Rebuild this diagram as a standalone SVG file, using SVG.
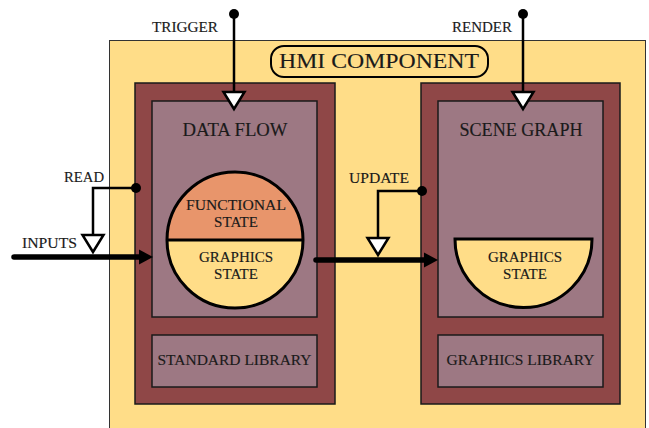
<svg xmlns="http://www.w3.org/2000/svg" width="649" height="428" viewBox="0 0 649 428">
  <defs>
    <style>
      .txt { font-family: "Liberation Serif", "DejaVu Serif", serif; fill: #1a1a1a; stroke: #1a1a1a; stroke-width: 0.15; text-anchor: middle; }
      .lbl { font-size: 15px; }
      .title { font-size: 18px; }
      .yellow { fill: #FFDD88; }
      .frame { fill: #8F4747; stroke: #1a1a1a; stroke-width: 1.5; }
      .panel { fill: #9D7883; stroke: #1a1a1a; stroke-width: 1.5; }
      .wire { fill: none; stroke: #000; stroke-width: 2.5; }
      .thick { fill: none; stroke: #000; stroke-width: 5.5; stroke-linecap: round; }
      .tri { fill: #fff; stroke: #000; stroke-width: 2.5; stroke-linejoin: miter; }
    </style>
  </defs>

  <!-- outer component -->
  <g id="hmi-component">
    <rect x="109.5" y="40.5" width="536" height="400" class="yellow" stroke="#333" stroke-width="1"/>
    <rect x="271" y="46" width="217" height="31" rx="13" ry="13" class="yellow" stroke="#000" stroke-width="2"/>
    <text x="379" y="68" class="txt" font-size="22" textLength="200" lengthAdjust="spacingAndGlyphs">HMI COMPONENT</text>
  </g>

  <!-- data flow block -->
  <g id="data-flow">
    <rect x="135" y="83" width="200" height="321" class="frame"/>
    <rect x="152" y="101" width="165" height="216" class="panel"/>
    <text x="235" y="136" class="txt title" textLength="105" lengthAdjust="spacingAndGlyphs">DATA FLOW</text>
  </g>

  <g id="state-circle">
    <path d="M167,240 A68,68 0 0 1 303,240 Z" fill="#E8956B"/>
    <path d="M167,240 A68,68 0 0 0 303,240 Z" fill="#FFDD88"/>
    <circle cx="235" cy="240" r="68" fill="none" stroke="#000" stroke-width="3"/>
    <line x1="167" y1="240" x2="303" y2="240" stroke="#000" stroke-width="3"/>
    <text x="236" y="210" class="txt lbl" textLength="100" lengthAdjust="spacingAndGlyphs">FUNCTIONAL</text>
    <text x="236" y="227" class="txt lbl">STATE</text>
    <text x="236" y="262" class="txt lbl">GRAPHICS</text>
    <text x="236" y="279" class="txt lbl">STATE</text>
  </g>

  <g id="standard-library">
    <rect x="152" y="335" width="165" height="52" class="panel"/>
    <text x="234.5" y="365" class="txt lbl" textLength="154" lengthAdjust="spacingAndGlyphs">STANDARD LIBRARY</text>
  </g>

  <!-- scene graph block -->
  <g id="scene-graph">
    <rect x="421" y="83" width="199" height="321" class="frame"/>
    <rect x="438" y="101" width="165" height="216" class="panel"/>
    <text x="521" y="136" class="txt title" textLength="123" lengthAdjust="spacingAndGlyphs">SCENE GRAPH</text>
  </g>

  <g id="graphics-state">
    <path d="M455,239 L592,239 A68.5,68.5 0 0 1 455,239 Z" fill="#FFDD88" stroke="#000" stroke-width="3"/>
    <text x="525" y="262" class="txt lbl">GRAPHICS</text>
    <text x="525" y="279" class="txt lbl">STATE</text>
  </g>

  <g id="graphics-library">
    <rect x="438" y="335" width="165" height="52" class="panel"/>
    <text x="520.5" y="365" class="txt lbl" textLength="148" lengthAdjust="spacingAndGlyphs">GRAPHICS LIBRARY</text>
  </g>

  <!-- connectors -->
  <g id="connectors">
    <!-- trigger -->
    <circle cx="234" cy="14" r="5"/>
    <line x1="234" y1="14" x2="234" y2="92" class="wire"/>
    <polygon points="223.5,92 244.5,92 234,109" class="tri"/>
    <text x="185" y="32" class="txt lbl" textLength="66" lengthAdjust="spacingAndGlyphs">TRIGGER</text>

    <!-- render -->
    <circle cx="523" cy="14" r="5"/>
    <line x1="523" y1="14" x2="523" y2="92" class="wire"/>
    <polygon points="512.5,92 533.5,92 523,109" class="tri"/>
    <text x="482" y="32" class="txt lbl" textLength="60" lengthAdjust="spacingAndGlyphs">RENDER</text>

    <!-- inputs -->
    <line x1="14" y1="257" x2="142" y2="257" class="thick"/>
    <polygon points="139,249.5 153,257 139,264.5" fill="#000"/>
    <text x="49.5" y="248" class="txt lbl" textLength="55" lengthAdjust="spacingAndGlyphs">INPUTS</text>

    <!-- read -->
    <circle cx="136" cy="188" r="5"/>
    <polyline points="136,188 93,188 93,235" class="wire"/>
    <polygon points="82.5,235 103.5,235 93,252" class="tri"/>
    <text x="84" y="182" class="txt lbl" textLength="40" lengthAdjust="spacingAndGlyphs">READ</text>

    <!-- graphics state update -->
    <line x1="316" y1="260" x2="427" y2="260" class="thick"/>
    <polygon points="424,252.5 438,260 424,267.5" fill="#000"/>

    <circle cx="422" cy="191" r="5"/>
    <polyline points="422,191 378,191 378,238" class="wire"/>
    <polygon points="367.5,238 388.5,238 378,255" class="tri"/>
    <text x="379" y="183" class="txt lbl" textLength="60" lengthAdjust="spacingAndGlyphs">UPDATE</text>
  </g>
</svg>
